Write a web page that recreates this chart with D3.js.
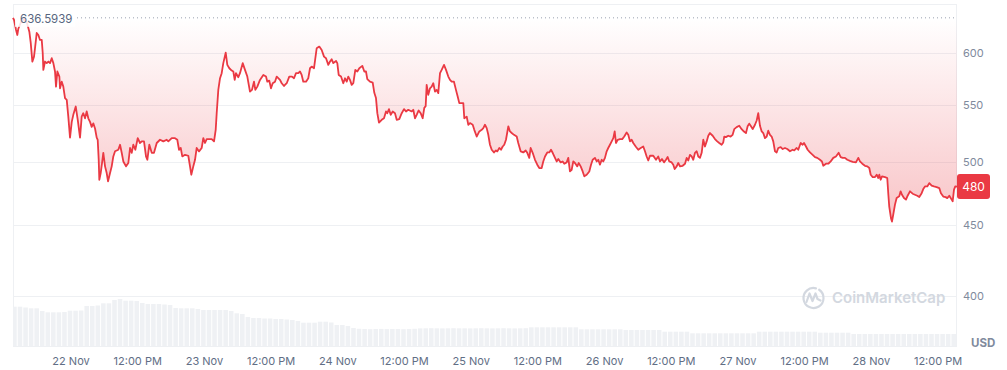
<!DOCTYPE html>
<html>
<head>
<meta charset="utf-8">
<script src="https://cdnjs.cloudflare.com/ajax/libs/d3/7.8.5/d3.min.js"></script>
<style>
body { margin: 0; background: #fff; }
svg text { font-family: Inter, "Noto Sans", sans-serif; }
</style>
</head>
<body>
<script>
// price points: [hours since 22 Nov 00:00, price in USD]
var pricePoints = [[-10.35,636.59],[-10.16,634.3],[-9.80,623.8],[-9.57,618.6],[-9.39,625.1],[-8.91,632.2],[-8.37,635.4],[-7.83,631.1],[-7.41,622.0],[-7.16,610.5],[-6.87,591.6],[-6.57,596.6],[-6.39,605.0],[-6.08,620.7],[-5.79,618.6],[-5.49,613.5],[-5.18,613.5],[-5.00,600.0],[-4.89,583.5],[-4.59,591.7],[-4.28,590.1],[-3.99,591.7],[-3.69,590.1],[-3.38,595.0],[-3.09,590.1],[-2.79,581.9],[-2.61,567.4],[-2.37,581.9],[-2.01,577.0],[-1.89,565.8],[-1.58,572.1],[-1.30,567.4],[-0.99,556.6],[-0.68,555.0],[-0.40,539.6],[-0.09,521.0],[0.22,534.9],[0.50,541.2],[0.94,548.8],[1.30,536.7],[1.71,521.0],[2.01,539.6],[2.30,542.7],[2.61,538.1],[2.91,544.3],[3.20,538.1],[3.51,534.9],[3.81,530.4],[4.10,533.5],[4.41,529.0],[4.71,521.0],[4.89,519.1],[5.07,502.0],[5.18,485.5],[5.43,491.0],[5.67,499.3],[5.90,507.9],[6.21,496.5],[6.51,491.0],[6.75,484.2],[7.11,491.0],[7.41,496.5],[7.70,504.8],[8.01,509.2],[8.60,510.5],[8.91,514.8],[9.21,507.9],[9.50,500.6],[9.99,496.5],[10.40,499.3],[10.71,512.0],[11.01,507.9],[11.30,514.8],[11.66,510.5],[12.09,520.5],[12.50,516.3],[12.81,517.7],[13.22,517.7],[13.58,504.8],[13.82,502.0],[14.18,514.8],[14.61,507.9],[15.02,507.9],[15.51,516.3],[16.10,519.1],[16.70,517.7],[17.31,519.1],[17.60,517.7],[18.21,520.5],[18.80,520.5],[19.21,519.1],[19.52,510.5],[19.83,512.0],[20.11,504.8],[20.60,506.2],[21.19,505.4],[21.50,496.5],[21.73,489.6],[22.09,496.5],[22.40,502.0],[22.70,512.0],[23.12,509.1],[23.60,512.0],[23.89,520.5],[24.20,516.3],[24.50,519.7],[25.40,519.7],[25.82,517.7],[26.12,527.8],[26.30,542.7],[26.59,564.3],[26.90,575.4],[27.20,580.3],[27.49,590.1],[27.92,600.6],[28.21,588.4],[28.57,585.1],[29.00,582.8],[29.29,581.9],[29.54,573.8],[29.77,580.3],[30.19,576.4],[30.49,580.3],[30.98,590.1],[31.39,583.5],[31.81,577.0],[32.29,562.7],[32.65,564.3],[33.01,572.1],[33.25,564.3],[33.61,567.4],[34.09,573.8],[34.69,578.6],[35.17,577.0],[35.41,572.1],[35.76,573.1],[36.07,565.8],[36.38,570.6],[36.79,572.1],[37.10,577.0],[37.69,573.8],[38.00,570.6],[38.41,568.0],[38.90,570.6],[39.36,577.0],[39.85,577.0],[40.21,575.4],[40.57,580.3],[40.98,580.3],[41.29,581.9],[41.59,578.6],[41.88,572.1],[42.37,572.1],[42.78,575.4],[43.09,585.1],[43.39,586.7],[43.81,585.1],[44.29,605.0],[44.76,606.7],[45.19,603.3],[45.61,596.6],[45.97,595.0],[46.38,588.4],[46.69,591.7],[46.99,594.0],[47.28,590.1],[47.77,592.3],[48.00,590.1],[48.25,578.6],[48.67,577.0],[49.08,570.6],[49.39,575.4],[49.69,572.1],[49.98,577.0],[50.28,573.8],[50.59,569.0],[50.88,570.6],[51.24,583.5],[51.60,581.9],[51.96,585.1],[52.50,587.4],[52.86,581.9],[53.16,581.9],[53.40,574.5],[53.88,572.1],[54.37,571.2],[54.66,561.5],[54.96,556.6],[55.20,542.7],[55.50,534.2],[55.99,536.7],[56.40,538.1],[56.76,544.3],[57.00,542.7],[57.30,546.4],[57.61,541.2],[57.97,544.3],[58.38,542.7],[58.69,536.7],[59.15,537.3],[59.59,542.7],[60.00,546.4],[60.36,544.3],[60.77,545.8],[61.38,544.3],[61.67,545.8],[61.98,538.1],[62.28,541.2],[62.64,545.2],[63.00,542.7],[63.36,538.1],[63.65,547.6],[63.90,549.1],[64.08,569.0],[64.37,559.6],[64.68,565.8],[64.98,567.4],[65.27,570.6],[65.58,562.7],[65.88,564.3],[66.17,561.2],[66.48,580.3],[66.78,583.5],[67.20,588.4],[67.56,583.5],[67.97,577.0],[68.28,573.8],[68.58,572.1],[68.99,572.1],[69.35,564.3],[69.66,558.0],[69.95,551.9],[70.67,551.9],[70.85,538.1],[71.28,539.6],[71.57,532.3],[71.87,533.8],[72.36,532.3],[72.65,527.8],[73.08,521.9],[73.55,526.4],[73.98,527.8],[74.27,529.3],[74.57,532.3],[74.88,529.3],[75.17,523.4],[75.47,514.8],[75.78,510.5],[76.19,508.2],[76.55,509.9],[76.79,509.1],[77.15,512.0],[77.45,510.5],[77.76,513.3],[78.04,514.8],[78.35,519.1],[78.77,530.9],[79.07,526.4],[79.38,525.0],[79.79,523.4],[80.28,521.9],[80.56,516.3],[81.00,509.1],[81.46,508.2],[81.89,509.9],[82.18,507.9],[82.54,503.6],[82.79,512.0],[83.15,507.9],[83.57,502.0],[83.98,497.9],[84.34,495.1],[84.77,495.1],[85.06,500.6],[85.37,504.8],[85.78,508.2],[86.14,508.2],[86.45,510.5],[86.75,507.9],[87.17,503.6],[87.47,500.6],[87.76,502.6],[88.19,499.8],[88.55,500.6],[88.84,498.7],[89.27,499.8],[89.56,503.6],[89.86,492.3],[90.17,493.7],[90.46,500.6],[90.76,499.3],[91.18,496.5],[91.43,499.3],[91.79,496.5],[92.15,492.3],[92.44,488.3],[92.87,489.6],[93.34,492.3],[93.65,497.9],[93.95,502.0],[94.36,503.6],[94.67,500.6],[94.96,502.0],[95.26,497.9],[95.57,502.0],[95.86,500.6],[96.16,503.6],[96.47,509.2],[96.75,512.0],[97.06,514.8],[97.37,517.7],[97.66,520.5],[97.91,526.4],[98.14,516.3],[98.45,519.1],[98.86,519.7],[99.27,519.7],[99.63,521.9],[100.06,525.4],[100.35,523.4],[100.66,517.7],[100.96,519.1],[101.25,516.3],[101.69,513.3],[102.15,510.5],[102.59,512.0],[103.05,513.3],[103.36,509.2],[103.66,504.8],[103.95,501.4],[104.26,505.4],[104.85,505.4],[105.34,502.0],[105.75,504.8],[106.06,500.6],[106.42,502.6],[106.78,499.8],[107.14,502.0],[107.44,504.3],[107.73,500.6],[108.16,499.8],[108.45,497.9],[108.70,494.3],[109.06,496.5],[109.35,499.3],[109.66,496.5],[110.14,497.0],[110.56,498.7],[110.86,503.6],[111.15,501.4],[111.46,506.2],[111.76,504.8],[112.05,502.0],[112.36,507.9],[112.66,509.2],[112.95,504.8],[113.25,503.6],[113.56,507.9],[113.85,519.1],[114.15,513.3],[114.46,517.7],[114.75,522.6],[115.05,525.0],[115.54,522.6],[115.95,519.7],[116.36,517.7],[116.72,516.3],[117.15,514.8],[117.44,516.8],[117.62,521.9],[117.93,521.4],[118.34,522.6],[118.77,521.9],[119.13,523.4],[119.42,528.4],[119.85,530.2],[120.32,531.4],[120.75,528.4],[121.17,526.3],[121.53,524.9],[121.83,530.9],[122.12,533.3],[122.43,530.9],[122.74,528.4],[123.15,532.3],[123.46,536.1],[123.74,542.7],[124.05,531.4],[124.36,526.4],[124.64,525.0],[124.95,520.5],[125.26,521.9],[125.54,527.0],[125.85,523.4],[126.15,521.9],[126.44,517.7],[126.75,509.2],[127.05,508.2],[127.34,512.0],[127.78,512.8],[128.14,511.1],[128.55,512.0],[128.96,511.1],[129.45,509.2],[129.93,510.5],[130.22,509.9],[130.65,512.0],[130.94,510.5],[131.37,516.3],[131.73,514.8],[131.97,516.3],[132.33,513.3],[132.63,510.5],[133.05,508.2],[133.53,506.2],[133.95,504.3],[134.36,503.6],[134.84,502.0],[135.20,500.6],[135.44,497.0],[135.93,498.7],[136.34,498.7],[136.77,500.6],[137.24,503.6],[137.72,504.8],[138.21,507.9],[138.57,504.3],[138.93,503.6],[139.34,503.6],[139.76,502.0],[140.24,501.1],[140.73,500.3],[141.32,499.8],[141.74,503.6],[142.04,500.6],[142.46,498.7],[142.94,497.0],[143.36,496.5],[143.72,495.1],[143.97,489.6],[144.33,487.7],[144.75,487.7],[145.05,489.6],[145.34,486.9],[145.52,489.6],[145.77,485.5],[146.01,488.2],[146.55,487.7],[146.95,486.9],[147.13,474.7],[147.31,464.1],[147.62,455.3],[147.80,452.7],[148.03,458.0],[148.34,465.7],[148.64,470.9],[149.11,472.2],[149.36,476.2],[149.60,473.5],[149.96,470.9],[150.32,469.6],[150.62,472.7],[151.04,476.2],[151.52,474.3],[151.93,473.5],[152.35,472.7],[152.71,471.7],[153.14,474.7],[153.43,478.0],[153.74,480.1],[154.15,480.1],[154.51,482.8],[154.94,480.7],[155.36,480.1],[155.84,479.6],[156.31,478.8],[156.61,474.7],[157.03,472.0],[157.46,471.6],[157.75,470.8],[158.11,472.7],[158.54,469.6],[158.72,468.3],[158.96,477.5],[159.19,480.1],[159.50,480.0]];

// hourly volume (M USD), first bar at hour -10
var volumeStartHour = -10;
var volumeValues = [393,393,385,377,377,350,337,337,337,340,
	353,353,355,400,400,405,427,427,460,470,
	453,453,450,430,420,420,420,415,410,380,
	377,377,377,370,360,360,360,360,360,350,
	327,320,290,280,280,275,275,270,270,265,
	260,250,233,233,233,243,243,235,210,210,
	200,180,172,170,168,170,171,169,170,170,
	168,170,172,176,177,178,177,176,177,178,
	177,177,176,177,178,177,176,177,178,177,
	176,177,178,187,187,187,187,187,187,187,
	187,187,167,167,167,167,167,167,167,167,
	160,160,160,160,160,160,160,143,143,143,
	143,143,127,127,127,127,127,127,127,127,
	127,127,127,127,143,143,143,143,143,143,
	143,143,143,143,143,133,133,133,133,133,
	133,120,120,120,120,120,120,120,120,120,
	120,120,120,120,120,120,120,120,120,120];

var yTicks = [400, 450, 500, 550, 600];
var openPrice = 636.5939;
var lastPrice = 480;
var baseDate = new Date(2024, 10, 22, 0, 0, 0);

function hourToDate(h) {
	return new Date(baseDate.getTime() + h * 3600000);
}

function init() {
	var w = 1007;
	var h = 370;
	var left = 13, right = 957, top = 4, bottom = 346;
	var red = "#ea3943";
	var grid = "#eef0f3";

	var svg = d3.select("body")
		.append("svg")
		.attr("width", w)
		.attr("height", h);

	var xScale = d3.scaleTime()
		.domain([hourToDate(pricePoints[0][0]), hourToDate(pricePoints[pricePoints.length - 1][0])])
		.range([left, right]);

	// log price scale, 400..600 calibrated on the gridlines
	var yScale = d3.scaleLog()
		.domain([367.6, 651.5])
		.range([bottom, top]);

	var volScale = d3.scaleLinear()
		.domain([0, d3.max(volumeValues)])
		.range([bottom, bottom - 47]);

	var defs = svg.append("defs");
	defs.append("clipPath").attr("id", "plot")
		.append("rect")
		.attr("x", left).attr("y", top)
		.attr("width", right - left).attr("height", bottom - top);

	var minPrice = d3.min(pricePoints, function(d) { return d[1]; });
	var grad = defs.append("linearGradient")
		.attr("id", "fillGrad")
		.attr("gradientUnits", "userSpaceOnUse")
		.attr("x1", 0).attr("x2", 0)
		.attr("y1", yScale(openPrice))
		.attr("y2", yScale(minPrice));
	grad.append("stop").attr("offset", "0%").attr("stop-color", red).attr("stop-opacity", 0.0);
	grad.append("stop").attr("offset", "100%").attr("stop-color", red).attr("stop-opacity", 0.3);

	//frame + gridlines
	svg.append("rect")
		.attr("x", left + 0.5).attr("y", top + 0.5)
		.attr("width", right - left - 1).attr("height", bottom - top)
		.attr("fill", "none")
		.attr("stroke", grid);

	svg.selectAll("line.grid")
		.data(yTicks)
		.enter()
		.append("line")
		.attr("class", "grid")
		.attr("x1", left).attr("x2", right)
		.attr("y1", function(d) { return Math.round(yScale(d)) + 0.5; })
		.attr("y2", function(d) { return Math.round(yScale(d)) + 0.5; })
		.attr("stroke", grid);

	var plot = svg.append("g").attr("clip-path", "url(#plot)");

	//volume bars
	plot.selectAll("rect.vol")
		.data(volumeValues)
		.enter()
		.append("rect")
		.attr("class", "vol")
		.attr("x", function(d, i) { return xScale(hourToDate(volumeStartHour + i - 0.5)); })
		.attr("y", function(d) { return volScale(d); })
		.attr("width", function(d, i) {
			return xScale(hourToDate(volumeStartHour + i + 0.5)) - xScale(hourToDate(volumeStartHour + i - 0.5)) - 1;
		})
		.attr("height", function(d) { return bottom - volScale(d); })
		.attr("fill", "#eff1f4");

	//watermark
	var wm = svg.append("g").attr("fill", "none").attr("stroke", "#d3d8e0").attr("stroke-width", 2.2)
		.attr("stroke-linecap", "round").attr("stroke-linejoin", "round");
	wm.append("path")
		.attr("d", d3.arc()({innerRadius: 10, outerRadius: 10, startAngle: 0.6, endAngle: 2 * Math.PI + 0.25}))
		.attr("transform", "translate(813.5,298)");
	wm.append("path")
		.attr("d", "M806.5,302 L809.5,293.5 L812.5,301 L815.5,293.5 L817.5,299 L820.5,300.5");
	svg.append("text")
		.attr("x", 832)
		.attr("y", 298)
		.attr("dy", "0.35em")
		.attr("font-size", "15px")
		.attr("font-weight", 600)
		.attr("fill", "#d3d8e0")
		.text("CoinMarketCap");

	//area between open price and price line
	var area = d3.area()
		.x(function(d) { return xScale(hourToDate(d[0])); })
		.y0(yScale(openPrice))
		.y1(function(d) { return yScale(d[1]); });
	plot.append("path")
		.datum(pricePoints)
		.attr("d", area)
		.attr("fill", "url(#fillGrad)");

	//open price dotted line
	svg.append("line")
		.attr("x1", 77).attr("x2", right)
		.attr("y1", yScale(openPrice)).attr("y2", yScale(openPrice))
		.attr("stroke", "#9aa1b0")
		.attr("stroke-width", 1)
		.attr("stroke-dasharray", "1 3");

	var line = d3.line()
		.x(function(d) { return xScale(hourToDate(d[0])); })
		.y(function(d) { return yScale(d[1]); });
	svg.append("path")
		.datum(pricePoints)
		.attr("d", line)
		.attr("fill", "none")
		.attr("stroke", red)
		.attr("stroke-width", 1.8)
		.attr("stroke-linejoin", "round");

	//open price label
	svg.append("rect")
		.attr("x", 15).attr("y", yScale(openPrice) - 9)
		.attr("width", 60).attr("height", 18)
		.attr("fill", "#fff")
		.attr("fill-opacity", 0.85);
	svg.append("text")
		.attr("x", 20)
		.attr("y", yScale(openPrice) + 1)
		.attr("dy", "0.35em")
		.attr("font-size", "11.5px")
		.attr("fill", "#58667e")
		.text(d3.format(".4f")(openPrice));

	//axes
	var xAxis = d3.axisBottom(xScale)
		.ticks(d3.timeHour.every(12))
		.tickSize(0)
		.tickPadding(11)
		.tickFormat(function(d) {
			return d.getHours() === 0 ? d3.timeFormat("%-d %b")(d) : d3.timeFormat("%I:%M %p")(d);
		});
	var gx = svg.append("g")
		.attr("transform", "translate(0," + bottom + ")")
		.call(xAxis);
	gx.select(".domain").remove();
	gx.selectAll("text").attr("font-size", "11px").attr("fill", "#616e85").attr("font-family", null);

	var yAxis = d3.axisRight(yScale)
		.tickValues(yTicks)
		.tickSize(0)
		.tickPadding(6)
		.tickFormat(d3.format("d"));
	var gy = svg.append("g")
		.attr("transform", "translate(" + right + ",0)")
		.call(yAxis);
	gy.select(".domain").remove();
	gy.selectAll("text").attr("font-size", "11px").attr("fill", "#808a9d").attr("font-family", null);

	svg.append("text")
		.attr("x", 971)
		.attr("y", 343)
		.attr("dy", "0.35em")
		.attr("font-size", "11.5px")
		.attr("font-weight", 700)
		.attr("fill", "#808a9d")
		.text("USD");

	//last price badge
	var ly = yScale(lastPrice);
	svg.append("rect")
		.attr("x", right).attr("y", ly - 12.5)
		.attr("width", 33).attr("height", 25)
		.attr("rx", 3)
		.attr("fill", red);
	svg.append("text")
		.attr("x", right + 16.5)
		.attr("y", ly)
		.attr("dy", "0.35em")
		.attr("text-anchor", "middle")
		.attr("font-size", "12px")
		.attr("fill", "#fff")
		.text(lastPrice);
}
window.onload = init;
</script>
</body>
</html>
